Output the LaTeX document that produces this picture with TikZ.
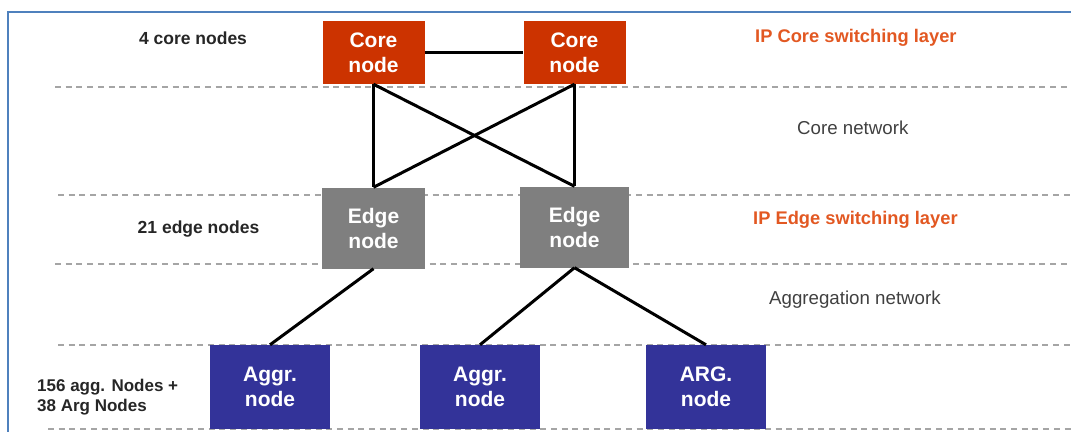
\documentclass[tikz,border=0pt]{standalone}
\usepackage{fontspec}
\setmainfont{Liberation Sans}
\usepackage{xcolor}
\usepackage{tikz}
\usetikzlibrary{positioning}

\definecolor{corered}{RGB}{204,51,0}
\definecolor{edgegray}{RGB}{127,127,127}
\definecolor{aggblue}{RGB}{51,51,153}
\definecolor{layerred}{RGB}{226,88,34}
\definecolor{framebl}{RGB}{79,129,189}
\definecolor{sepgray}{RGB}{165,165,165}

\begin{document}
\begin{tikzpicture}[x=1pt, y=-1pt,
  box/.style={inner sep=0pt, align=center, text=white,
    font=\fontsize{21}{25}\selectfont\bfseries},
  corebox/.style={box, fill=corered, minimum width=102pt, minimum height=63pt},
  edgebox/.style={box, fill=edgegray, minimum height=81pt},
  aggbox/.style={box, fill=aggblue, minimum width=120pt, minimum height=84pt},
  link/.style={line width=3pt, black},
  sep/.style={sepgray, line width=1.8pt, dash pattern=on 6pt off 4.7pt},
  countlbl/.style={inner sep=0pt, font=\fontsize{17.5}{20}\selectfont\bfseries, text=black!85},
  layerlbl/.style={inner sep=0pt, anchor=west, font=\fontsize{18.3}{22}\selectfont\bfseries, text=layerred},
  netlbl/.style={inner sep=0pt, anchor=west, font=\fontsize{18.7}{22}\selectfont, text=black!75}]
  \useasboundingbox (0,0) rectangle (1071,432);
  % Frame (top and left edge only)
  \draw[framebl, line width=1.8pt] (1071,12) -- (8,12) -- (8,432);
  % Layer separators
  \draw[sep] (55,87) -- (1071,87);
  \draw[sep] (58,195) -- (1071,195);
  \draw[sep] (55,264) -- (1071,264);
  \draw[sep] (58,345) -- (1071,345);
  \draw[sep] (48,429) -- (1071,429);
  % Core layer
  \node[corebox] (core1) at (373.5,52.5) {Core\\node};
  \node[corebox] (core2) at (574.5,52.5) {Core\\node};
  % Edge layer
  \node[edgebox, minimum width=103pt] (edge1) at (373.5,228) {Edge\\node};
  \node[edgebox, minimum width=109pt] (edge2) at (574.5,227) {Edge\\node};
  % Aggregation layer
  \node[aggbox] (agg1) at (270,387) {Aggr.\\node};
  \node[aggbox] (agg2) at (480,387) {Aggr.\\node};
  \node[aggbox] (arg1) at (706,387) {ARG.\\node};
  % Links
  \draw[link] (core1) -- (core2);
  \draw[link] (core1.south) -- (edge1.north);
  \draw[link] (core1.south) -- (edge2.north);
  \draw[link] (core2.south) -- (edge2.north);
  \draw[link] (core2.south) -- (edge1.north);
  \draw[link] (edge1.south) -- (agg1.north);
  \draw[link] (edge2.south) -- (agg2.north);
  \draw[link] (edge2.south) -- (arg1.north);
  % Node counts
  \node[countlbl] (ncore) at (193,38) {4 core nodes};
  \node[countlbl] (nedge) at (198.5,229) {21 edge nodes};
  \node[countlbl, anchor=west, align=left, font=\fontsize{17}{20}\selectfont\bfseries] (nagg) at (37,397) {156 agg. Nodes +\\38 Arg Nodes};
  % Layer names
  \node[layerlbl] (lcore) at (755,38) {IP Core switching layer};
  \node[netlbl] (ncorenet) at (797,128) {Core network};
  \node[layerlbl] (ledge) at (753,220) {IP Edge switching layer};
  \node[netlbl] (naggnet) at (769,300) {Aggregation network};
\end{tikzpicture}
\end{document}
